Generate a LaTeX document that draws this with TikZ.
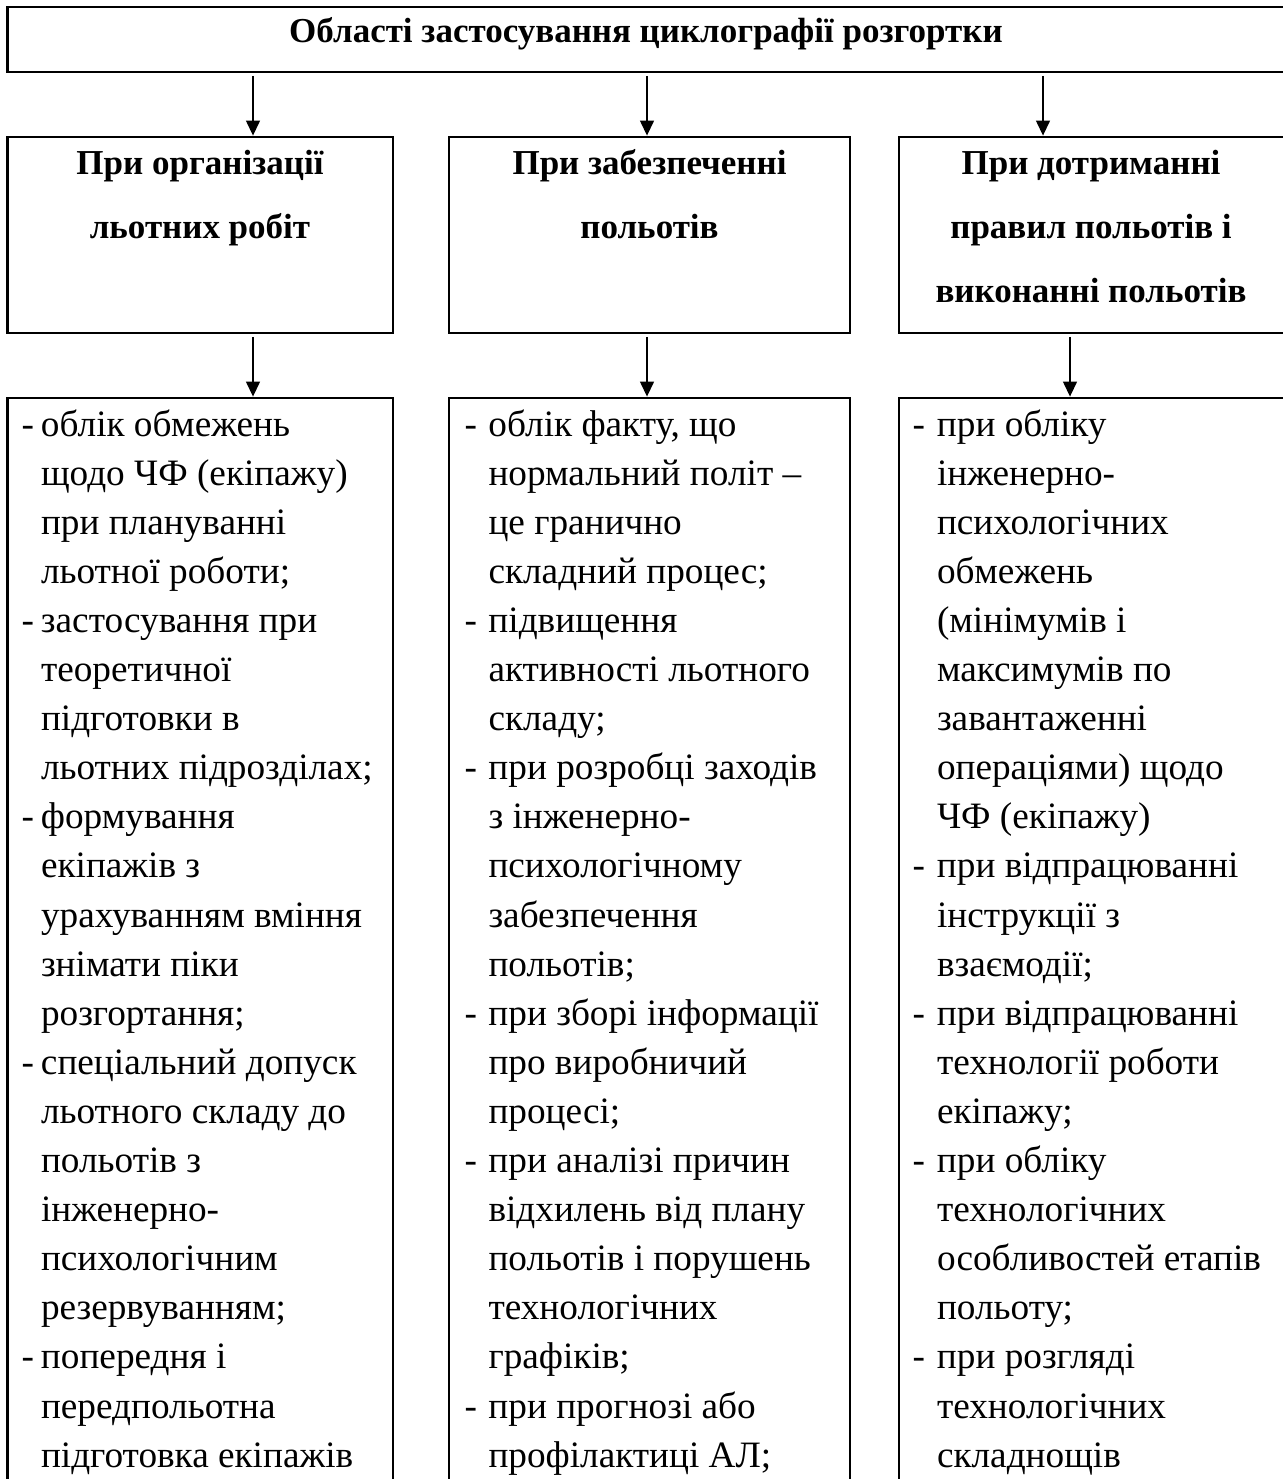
\documentclass[tikz,border=0pt]{standalone}
\usepackage{fontspec}
\setmainfont{Liberation Serif}
\usetikzlibrary{arrows.meta,fit}
\newlength\dw
\newcommand\dsh{\makebox[\dw][l]{-}}
\newcommand\ind{\hspace*{\dw}}
\newcommand\colbody[2]{\parbox[t]{170pt}{\setlength\dw{#1}\fontsize{14.9}{19.64}\selectfont\raggedright #2}}
\newcommand\headtxt[1]{\parbox[t]{150pt}{\centering\bfseries\fontsize{14}{25.6}\selectfont #1}}
\begin{document}
\begin{tikzpicture}[x=0.4pt,y=-0.4pt,
  box/.style={draw, line width=1.1pt, inner sep=0pt},
  arr/.style={line width=0.8pt, shorten <=1pt, -{Triangle[length=6pt,width=5.5pt]}},
  body/.style={anchor=base west, inner sep=0pt},
  head/.style={anchor=base, inner sep=0pt}]
\useasboundingbox (0,0) rectangle (1282,1479);

\node[box, fit={(7.5,7)(1285,72)}] (top) {};
\node[box, fit={(7.5,137)(393,333)}] (h1) {};
\node[box, fit={(449,137)(850,333)}] (h2) {};
\node[box, fit={(899,137)(1285,333)}] (h3) {};
\node[box, fit={(7.5,398)(393,1510)}] (c1) {};
\node[box, fit={(449,398)(850,1510)}] (c2) {};
\node[box, fit={(899,398)(1285,1510)}] (c3) {};

\coordinate (a1) at (253,0);
\coordinate (a2) at (647,0);
\coordinate (a3) at (1043,0);
\coordinate (b3) at (1070,0);
\draw[arr] (top.south -| a1) -- (h1.north -| a1);
\draw[arr] (top.south -| a2) -- (h2.north -| a2);
\draw[arr] (top.south -| a3) -- (h3.north -| a3);
\draw[arr] (h1.south -| a1) -- (c1.north -| a1);
\draw[arr] (h2.south -| a2) -- (c2.north -| a2);
\draw[arr] (h3.south -| b3) -- (c3.north -| b3);

\node[head, font=\bfseries\fontsize{14}{17}\selectfont] (title) at (646,43) {Області застосування циклографії розгортки};
\node[head] (ht1) at (200,174) {\headtxt{При організації\\льотних робіт}};
\node[head] (ht2) at (649.5,174) {\headtxt{При забезпеченні\\польотів}};
\node[head] (ht3) at (1091,174) {\headtxt{При дотриманні\\правил польотів і\\виконанні польотів}};

\node[body] (bt1) at (21,436) {\colbody{7.8pt}{%
\dsh облік обмежень\\
\ind щодо ЧФ (екіпажу)\\
\ind при плануванні\\
\ind льотної роботи;\\
\dsh застосування при\\
\ind теоретичної\\
\ind підготовки в\\
\ind льотних підрозділах;\\
\dsh формування\\
\ind екіпажів з\\
\ind урахуванням вміння\\
\ind знімати піки\\
\ind розгортання;\\
\dsh спеціальний допуск\\
\ind льотного складу до\\
\ind польотів з\\
\ind інженерно-\\
\ind психологічним\\
\ind резервуванням;\\
\dsh попередня і\\
\ind передпольотна\\
\ind підготовка екіпажів}};

\node[body] (bt2) at (464,436) {\colbody{9.6pt}{%
\dsh облік факту, що\\
\ind нормальний політ –\\
\ind це гранично\\
\ind складний процес;\\
\dsh підвищення\\
\ind активності льотного\\
\ind складу;\\
\dsh при розробці заходів\\
\ind з інженерно-\\
\ind психологічному\\
\ind забезпечення\\
\ind польотів;\\
\dsh при зборі інформації\\
\ind про виробничий\\
\ind процесі;\\
\dsh при аналізі причин\\
\ind відхилень від плану\\
\ind польотів і порушень\\
\ind технологічних\\
\ind графіків;\\
\dsh при прогнозі або\\
\ind профілактиці АЛ;}};

\node[body] (bt3) at (912,436) {\colbody{9.8pt}{%
\dsh при обліку\\
\ind інженерно-\\
\ind психологічних\\
\ind обмежень\\
\ind (мінімумів і\\
\ind максимумів по\\
\ind завантаженні\\
\ind операціями) щодо\\
\ind ЧФ (екіпажу)\\
\dsh при відпрацюванні\\
\ind інструкції з\\
\ind взаємодії;\\
\dsh при відпрацюванні\\
\ind технології роботи\\
\ind екіпажу;\\
\dsh при обліку\\
\ind технологічних\\
\ind особливостей етапів\\
\ind польоту;\\
\dsh при розгляді\\
\ind технологічних\\
\ind складнощів}};
\end{tikzpicture}
\end{document}
